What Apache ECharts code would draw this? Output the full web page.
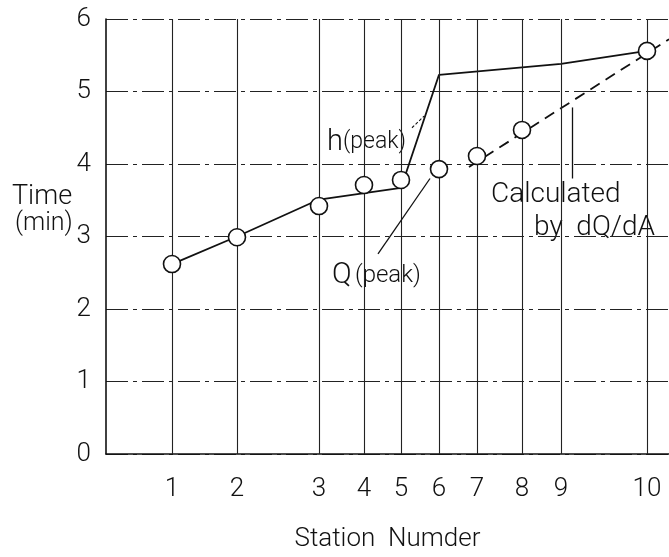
<!DOCTYPE html>
<html>
<head>
<meta charset="utf-8">
<script src="https://cdn.jsdelivr.net/npm/echarts@6/dist/echarts.min.js"></script>
<style>
html,body{margin:0;padding:0;background:#fff;}
#chart{width:669px;height:557px;}
</style>
</head>
<body>
<div id="chart"></div>
<script>
// Station labels and their position along the channel (arbitrary distance units)
var stations = ['1','2','3','4','5','6','7','8','9','10'];
var stationDist = [6.6, 13.1, 21.3, 25.8, 29.5, 33.3, 37.1, 41.6, 45.5, 54.1];
// Q(peak) observed times (circles); station 9 has no point
var qPeak = [2.62, 2.99, 3.42, 3.71, 3.78, 3.93, 4.11, 4.47, null, 5.56];
// h(peak) line: station numbers and times
var hPeakStations = [1, 2, 3, 5, 6, 9, 10];
var hPeakTimes = [2.62, 3.00, 3.51, 3.67, 5.23, 5.38, 5.56];
// Calculated by dQ/dA (dashed line) : distance and time
var calcDist = [36.3, 56.3];
var calcTimes = [3.96, 5.72];
var yTicks = [0, 1, 2, 3, 4, 5, 6];

var FONT = 'Roboto';
var chart = echarts.init(document.getElementById('chart'));

var qData = [];
for (var i = 0; i < stations.length; i++) {
  if (qPeak[i] != null) qData.push([stationDist[i], qPeak[i]]);
}
var hData = hPeakStations.map(function (s, k) { return [stationDist[s - 1], hPeakTimes[k]]; });
var cData = calcDist.map(function (d, k) { return [d, calcTimes[k]]; });

var arrowStyle = { color: '#111', width: 1.3, type: 'solid' };

chart.setOption({
  animation: false,
  backgroundColor: '#fff',
  grid: { left: 106, right: 0, top: 19, bottom: 87, containLabel: false },
  xAxis: {
    type: 'value', min: 0, max: 56.3,
    name: 'Station  Numder', nameLocation: 'middle', nameGap: 72,
    nameTextStyle: { fontFamily: FONT, fontSize: 26, fontWeight: 300, color: '#111' },
    axisLine: { show: true, lineStyle: { color: '#111', width: 1.6 } },
    axisTick: { show: false },
    splitLine: { show: false },
    axisLabel: {
      customValues: stationDist,
      margin: 22,
      fontFamily: FONT, fontSize: 26, fontWeight: 300, color: '#111',
      formatter: function (v) {
        for (var j = 0; j < stationDist.length; j++) if (Math.abs(stationDist[j] - v) < 1e-6) return stations[j];
        return '';
      }
    }
  },
  yAxis: {
    type: 'value', min: 0, max: 6, interval: 1,
    axisLine: { show: true, lineStyle: { color: '#111', width: 1.6 } },
    axisTick: { show: false },
    axisLabel: { margin: 15, fontFamily: FONT, fontSize: 26, fontWeight: 300, color: '#111',
      formatter: function (v) { return yTicks.indexOf(v) >= 0 ? String(v) : ''; } },
    splitLine: { show: true, lineStyle: { color: '#222', width: 1.1, type: [22, 5, 4, 5] } }
  },
  graphic: [
    { type: 'text', left: 12, top: 184, style: { text: 'Time', font: '300 27px ' + FONT, fill: '#111' } },
    { type: 'text', left: 15, top: 211, style: { text: '(min)', font: '300 25px ' + FONT, fill: '#111' } },
    { type: 'text', left: 327, top: 128, style: {
        text: '{a|h}{b|(peak)}', fill: '#111',
        rich: { a: { fontFamily: FONT, fontWeight: 300, fontSize: 29, fill: '#111' },
                b: { fontFamily: FONT, fontWeight: 300, fontSize: 23, fill: '#111' } } } },
    { type: 'text', left: 332, top: 261, style: {
        text: '{a|Q} {b|(peak)}', fill: '#111',
        rich: { a: { fontFamily: FONT, fontWeight: 300, fontSize: 29, fill: '#111' },
                b: { fontFamily: FONT, fontWeight: 300, fontSize: 24, fill: '#111' } } } },
    { type: 'text', left: 491, top: 181, style: { text: 'Calculated', font: '300 28px ' + FONT, fill: '#111' } },
    { type: 'text', left: 534, top: 214, style: { text: 'by  dQ/dA', font: '300 28px ' + FONT, fill: '#111' } }
  ],
  series: [
    {
      type: 'line', data: [], silent: true, z: 1,
      markLine: {
        silent: true, symbol: 'none', animation: false,
        label: { show: false },
        lineStyle: { color: '#222', width: 1.1, type: 'solid' },
        data: stationDist.map(function (d) { return { xAxis: d }; })
      }
    },
    {
      name: 'h(peak)', type: 'line', data: hData, symbol: 'none', z: 3,
      lineStyle: { color: '#111', width: 1.8 }
    },
    {
      name: 'Calculated', type: 'line', data: cData, symbol: 'none', z: 3,
      lineStyle: { color: '#111', width: 1.8, type: [11, 7] },
      markLine: {
        silent: true, symbol: ['none', 'arrow'], symbolSize: [0, 9],
        label: { show: false },
        data: [
          [{ coord: [46.6, 3.80], lineStyle: arrowStyle }, { coord: [46.6, 4.78] }],
          [{ coord: [27.2, 2.76], lineStyle: arrowStyle }, { coord: [32.4, 3.80] }],
          [{ coord: [30.6, 4.50], lineStyle: { color: '#111', width: 1.1, type: [3, 2] } }, { coord: [31.8, 4.66] }]
        ]
      }
    },
    {
      name: 'Q(peak)', type: 'scatter', data: qData, symbol: 'circle', symbolSize: 17, z: 5,
      itemStyle: { color: '#fff', opacity: 1, borderColor: '#111', borderWidth: 1.6 }
    }
  ]
});
</script>
</body>
</html>
